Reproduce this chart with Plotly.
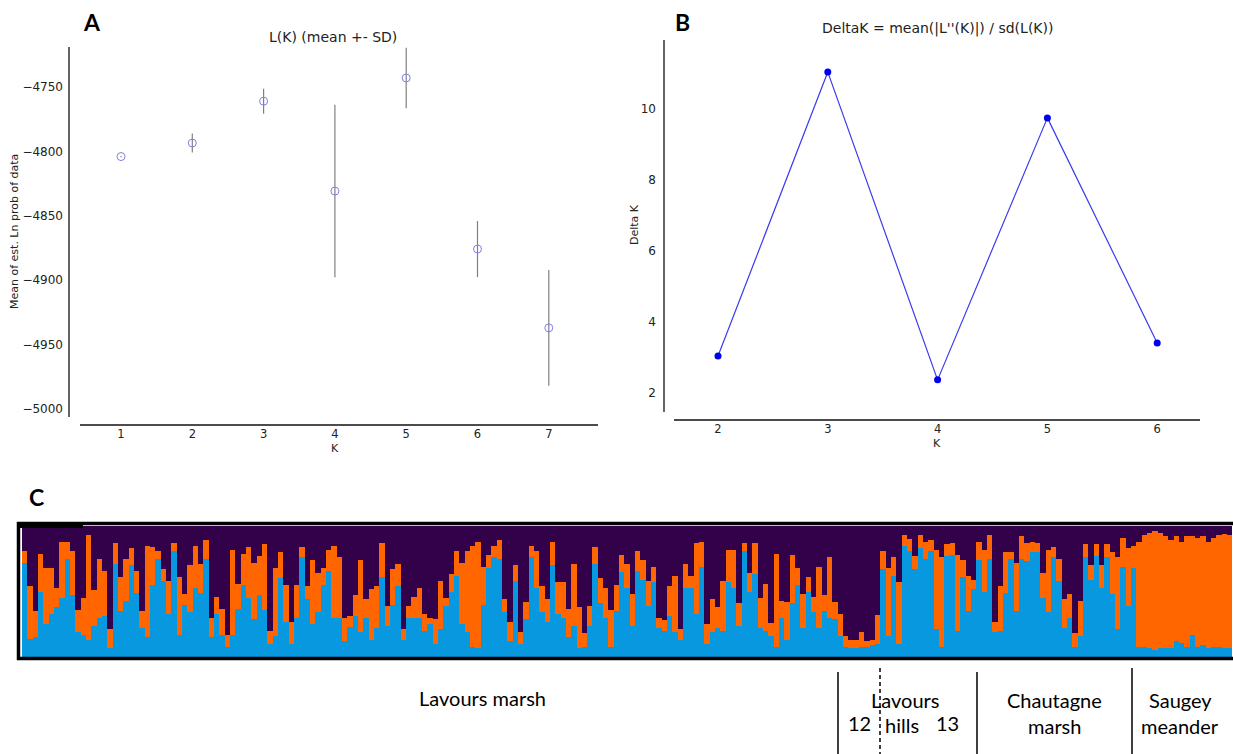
import plotly.graph_objects as go

W, H = 1233, 754

# ---------------- Panel A data ----------------
k_a = [1, 2, 3, 4, 5, 6, 7]
lnp_mean = [-4804.0, -4793.5, -4761.0, -4830.8, -4743.0, -4875.8, -4937.0]
lnp_sd = [0.5, 7.4, 9.7, 67.0, 23.5, 21.7, 45.0]
a_yticks = [-5000, -4950, -4900, -4850, -4800, -4750]

# ---------------- Panel B data ----------------
k_b = [2, 3, 4, 5, 6]
delta_k = [3.04, 11.04, 2.37, 9.75, 3.41]
b_yticks = [2, 4, 6, 8, 10]

# ---------------- Panel C data (STRUCTURE K=3 memberships) ----------------
q_blue = [
    0.72, 0.14, 0.15, 0.50, 0.25, 0.33, 0.38, 0.45, 0.75, 0.47,
    0.19, 0.17, 0.13, 0.24, 0.30, 0.31, 0.07, 0.71, 0.35, 0.43,
    0.70, 0.49, 0.22, 0.15, 0.55, 0.75, 0.58, 0.33, 0.81, 0.17,
    0.40, 0.34, 0.53, 0.49, 0.75, 0.15, 0.33, 0.17, 0.08, 0.17,
    0.37, 0.55, 0.45, 0.29, 0.47, 0.36, 0.10, 0.16, 0.60, 0.27,
    0.10, 0.30, 0.76, 0.44, 0.25, 0.34, 0.55, 0.66, 0.30, 0.30,
    0.12, 0.23, 0.31, 0.19, 0.30, 0.13, 0.22, 0.61, 0.24, 0.40,
    0.54, 0.13, 0.30, 0.30, 0.30, 0.20, 0.25, 0.10, 0.21, 0.39,
    0.50, 0.62, 0.25, 0.19, 0.08, 0.07, 0.40, 0.68, 0.76, 0.75,
    0.34, 0.12, 0.58, 0.10, 0.29, 0.76, 0.53, 0.34, 0.27, 0.70,
    0.33, 0.30, 0.15, 0.24, 0.07, 0.08, 0.24, 0.71, 0.41, 0.30,
    0.08, 0.35, 0.65, 0.53, 0.24, 0.66, 0.59, 0.39, 0.57, 0.22,
    0.20, 0.31, 0.19, 0.13, 0.53, 0.53, 0.33, 0.69, 0.10, 0.19,
    0.22, 0.20, 0.57, 0.53, 0.24, 0.81, 0.50, 0.63, 0.22, 0.20,
    0.16, 0.08, 0.30, 0.13, 0.41, 0.55, 0.22, 0.50, 0.34, 0.22,
    0.35, 0.30, 0.29, 0.16, 0.08, 0.07, 0.07, 0.08, 0.08, 0.09,
    0.10, 0.67, 0.16, 0.62, 0.10, 0.85, 0.81, 0.67, 0.83, 0.75,
    0.81, 0.21, 0.08, 0.77, 0.78, 0.20, 0.61, 0.35, 0.52, 0.74,
    0.50, 0.75, 0.19, 0.20, 0.49, 0.75, 0.35, 0.75, 0.73, 0.80,
    0.80, 0.45, 0.34, 0.76, 0.58, 0.22, 0.30, 0.08, 0.16, 0.76,
    0.59, 0.77, 0.53, 0.76, 0.48, 0.21, 0.69, 0.39, 0.68, 0.08,
    0.08, 0.07, 0.05, 0.07, 0.07, 0.07, 0.12, 0.11, 0.08, 0.17,
    0.08, 0.09, 0.07, 0.08, 0.08, 0.07, 0.07,
]
q_orange = [
    0.09, 0.40, 0.20, 0.29, 0.43, 0.35, 0.15, 0.43, 0.13, 0.34,
    0.17, 0.28, 0.80, 0.27, 0.45, 0.35, 0.14, 0.16, 0.26, 0.32,
    0.13, 0.17, 0.13, 0.70, 0.29, 0.06, 0.09, 0.25, 0.06, 0.44,
    0.08, 0.36, 0.32, 0.22, 0.14, 0.15, 0.13, 0.20, 0.09, 0.65,
    0.19, 0.24, 0.39, 0.43, 0.30, 0.50, 0.10, 0.52, 0.20, 0.28,
    0.17, 0.25, 0.08, 0.10, 0.49, 0.30, 0.13, 0.16, 0.55, 0.46,
    0.18, 0.08, 0.16, 0.55, 0.14, 0.39, 0.32, 0.26, 0.15, 0.27,
    0.17, 0.08, 0.09, 0.16, 0.23, 0.13, 0.05, 0.19, 0.37, 0.06,
    0.13, 0.19, 0.47, 0.62, 0.77, 0.81, 0.29, 0.10, 0.09, 0.14,
    0.10, 0.15, 0.12, 0.09, 0.13, 0.09, 0.28, 0.20, 0.17, 0.18,
    0.24, 0.27, 0.22, 0.47, 0.31, 0.10, 0.15, 0.13, 0.19, 0.23,
    0.28, 0.20, 0.13, 0.18, 0.24, 0.15, 0.15, 0.19, 0.12, 0.08,
    0.08, 0.23, 0.43, 0.08, 0.18, 0.09, 0.54, 0.19, 0.15, 0.25,
    0.16, 0.38, 0.25, 0.29, 0.17, 0.06, 0.14, 0.24, 0.23, 0.36,
    0.10, 0.71, 0.13, 0.29, 0.37, 0.13, 0.26, 0.11, 0.12, 0.47,
    0.12, 0.46, 0.13, 0.17, 0.08, 0.06, 0.06, 0.11, 0.04, 0.04,
    0.22, 0.14, 0.52, 0.14, 0.47, 0.08, 0.09, 0.10, 0.10, 0.13,
    0.08, 0.61, 0.68, 0.09, 0.09, 0.58, 0.13, 0.27, 0.07, 0.14,
    0.32, 0.18, 0.08, 0.34, 0.31, 0.05, 0.37, 0.17, 0.14, 0.08,
    0.07, 0.19, 0.48, 0.08, 0.17, 0.22, 0.18, 0.10, 0.27, 0.10,
    0.11, 0.09, 0.17, 0.10, 0.32, 0.55, 0.22, 0.44, 0.17, 0.80,
    0.85, 0.88, 0.91, 0.88, 0.85, 0.82, 0.80, 0.77, 0.84, 0.75,
    0.83, 0.83, 0.81, 0.83, 0.85, 0.87, 0.86,
]
q_purple = [round(1 - b - o, 2) for b, o in zip(q_blue, q_orange)]
individuals = list(range(1, len(q_blue) + 1))

C_PURPLE = "#33004a"
C_BLUE = "#0898e0"
C_ORANGE = "#ff6600"


def px(x):
    return x / W


def py(y):
    return 1 - y / H


fig = go.Figure()

# Panel A
fig.add_trace(go.Scatter(
    x=k_a, y=lnp_mean, mode="markers", xaxis="x", yaxis="y",
    marker=dict(symbol="circle-open", size=8, color="#8080e6", line=dict(width=1)),
    error_y=dict(type="data", array=lnp_sd, visible=True, color="#808080", thickness=1.2, width=0),
    showlegend=False,
))

# Panel B
fig.add_trace(go.Scatter(
    x=k_b, y=delta_k, mode="lines+markers", xaxis="x2", yaxis="y2",
    line=dict(color="#3a3af0", width=1.2),
    marker=dict(symbol="circle", size=7, color="#0000f0"),
    showlegend=False,
))

# Panel C stacked bars
for vals, col in [(q_blue, C_BLUE), (q_orange, C_ORANGE), (q_purple, C_PURPLE)]:
    fig.add_trace(go.Bar(
        x=individuals, y=vals, xaxis="x3", yaxis="y3", width=1.0,
        marker=dict(color=col, line=dict(width=0)), showlegend=False,
    ))

ytick_font = dict(family="DejaVu Sans", size=12, color="#222222")
xtick_font = dict(family="DejaVu Sans", size=11.5, color="#222222")

# Geometry (pixel positions)
A_l, A_r, A_t, A_b = 69, 598, 47, 425
B_l, B_r, B_t, B_b = 664, 1200, 40, 420
C_l, C_r, C_t, C_b = 21.7, 1232, 526, 657

a_xr = [1 + (A_l - 121) / 71.3, 1 + (A_r - 121) / 71.3]
a_yr = [-5000 - (A_b - 409) / 64.4 * 50, -4750 + (87 - A_t) / 64.4 * 50]
b_xr = [2 + (B_l - 718) / 109.8, 2 + (B_r - 718) / 109.8]
b_yr = [2 - (B_b - 393) / 35.5, 10 + (109 - B_t) / 35.5]

common = dict(showgrid=False, zeroline=False, showline=False, ticks="")
fig.update_layout(
    width=W, height=H, margin=dict(l=0, r=0, t=0, b=0), autosize=False,
    paper_bgcolor="white", plot_bgcolor="white", barmode="stack", bargap=0,
    xaxis=dict(domain=[px(A_l), px(A_r)], range=a_xr, tickvals=k_a, anchor="y",
               tickfont=xtick_font, **common),
    yaxis=dict(domain=[py(A_b), py(A_t)], range=a_yr, tickvals=a_yticks, anchor="x",
               ticklabelstandoff=5, tickfont=ytick_font, **common),
    xaxis2=dict(domain=[px(B_l), px(B_r)], range=b_xr, tickvals=k_b, anchor="y2",
                tickfont=xtick_font, **common),
    yaxis2=dict(domain=[py(B_b), py(B_t)], range=b_yr, tickvals=b_yticks, anchor="x2",
                ticklabelstandoff=7, tickfont=ytick_font, **common),
    xaxis3=dict(domain=[px(C_l), px(C_r)], range=[0.5, len(q_blue) + 0.5], visible=False,
                anchor="y3"),
    yaxis3=dict(domain=[py(C_b), py(C_t)], range=[0, 1], visible=False, anchor="x3"),
)

shapes = []
line_col = "#111111"
shapes.append(dict(type="line", xref="paper", yref="paper", x0=px(69), x1=px(69), y0=py(47), y1=py(417),
                   line=dict(color=line_col, width=1.3)))
shapes.append(dict(type="line", xref="paper", yref="paper", x0=px(80), x1=px(598), y0=py(425), y1=py(425),
                   line=dict(color=line_col, width=1.3)))
shapes.append(dict(type="line", xref="paper", yref="paper", x0=px(664), x1=px(664), y0=py(40), y1=py(412),
                   line=dict(color=line_col, width=1.3)))
shapes.append(dict(type="line", xref="paper", yref="paper", x0=px(674), x1=px(1200), y0=py(420), y1=py(420),
                   line=dict(color=line_col, width=1.3)))
shapes.append(dict(type="rect", xref="paper", yref="paper", x0=px(18.5), x1=px(1240), y0=py(658.5), y1=py(523.5),
                   line=dict(color="black", width=3.5)))
shapes.append(dict(type="rect", xref="paper", yref="paper", x0=px(17), x1=px(83), y0=py(528), y1=py(522),
                   fillcolor="black", line=dict(width=0)))
for xx, y0, dash in [(838, 672, "solid"), (880, 668, "dash"), (977, 672, "solid"), (1132, 668, "solid")]:
    shapes.append(dict(type="line", xref="paper", yref="paper", x0=px(xx), x1=px(xx), y0=py(y0), y1=py(754),
                       line=dict(color="black", width=1.5, dash="solid" if dash == "solid" else "4px,3px")))
fig.update_layout(shapes=shapes)

ann = []


def text(x, y, s, size, family="DejaVu Sans", bold=False, angle=0, color="#222222"):
    ann.append(dict(xref="paper", yref="paper", x=px(x), y=py(y), text=("<b>%s</b>" % s) if bold else s,
                    showarrow=False, xanchor="center", yanchor="middle", textangle=angle,
                    font=dict(family=family, size=size, color=color)))


text(92, 22, "A", 23, family="Lato", bold=True, color="black")
text(682, 22, "B", 23, family="Lato", bold=True, color="black")
text(36, 497, "C", 23, family="Lato", bold=True, color="black")
text(333, 37, "L(K) (mean +- SD)", 14)
text(937, 28, "DeltaK = mean(|L''(K)|) / sd(L(K))", 14)
text(14, 232, "Mean of est. Ln prob of data", 11, angle=-90)
text(335, 448, "K", 11)
text(634, 225, "Delta K", 11, angle=-90)
text(937, 443, "K", 11)
text(482, 698, "Lavours marsh", 20, family="Lato", color="black")
text(905, 700, "Lavours", 20, family="Lato", color="black")
text(859, 723, "12", 20, family="Lato", color="black")
text(902, 725, "hills", 20, family="Lato", color="black")
text(948, 723, "13", 20, family="Lato", color="black")
text(1054, 700, "Chautagne", 20, family="Lato", color="black")
text(1054, 726, "marsh", 20, family="Lato", color="black")
text(1180, 700, "Saugey", 20, family="Lato", color="black")
text(1180, 726, "meander", 20, family="Lato", color="black")
fig.update_layout(annotations=ann)

fig.write_html("out.html", config={"displayModeBar": False},
               post_script="document.body.style.margin='0px';document.body.style.overflow='hidden';")
